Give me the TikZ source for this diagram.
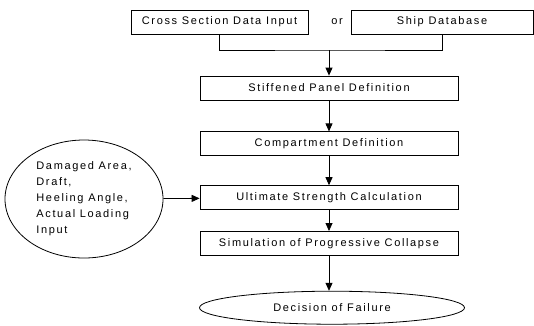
\documentclass[tikz,border=0pt]{standalone}
\usepackage{fontspec}
\setmainfont{Liberation Sans}[LetterSpace=15]
\usetikzlibrary{positioning,shapes.geometric,arrows.meta}
\tikzstyle{stage} = [rectangle,
                    draw=black,
                    minimum width=258pt,
                    minimum height=24pt,
                    inner sep=0pt,
                    font=\fontsize{11}{13}\selectfont]
\tikzstyle{outcome} = [ellipse,
                      draw=black,
                      inner sep=0pt,
                      font=\fontsize{11}{13}\selectfont]
\tikzstyle{flow} = [x=1pt,
                   y=-1pt,
                   line width=0.8pt,
                   >={Triangle[length=8pt,width=7pt]}]
\begin{document}
\begin{tikzpicture}[flow]
    \useasboundingbox (0,0) rectangle (534,325);
    \node (cross) at (219.5,22) [stage, minimum width=177pt] {Cross Section Data Input};
    \node (ship) at (442,22) [stage, minimum width=182pt] {Ship Database};
    \node (or) at (337,22) [font=\fontsize{11}{13}\selectfont] {or};
    \node (panel) at (329,88) [stage] {Stiffened Panel Definition};
    \node (comp) [below=31pt of panel] [stage] {Compartment Definition};
    \node (ultimate) [below=29pt of comp] [stage] {Ultimate Strength Calculation};
    \node (sim) [below=21pt of ultimate] [stage] {Simulation of Progressive Collapse};
    \node (failure) [below=35pt of sim, xshift=3pt] [outcome, minimum width=265pt, minimum height=33pt] {Decision of Failure};
    \node (loads) at (84,199) [outcome, minimum width=158pt, minimum height=118pt,
      align=left, font=\fontsize{11}{16}\selectfont]
      {Damaged Area,\\Draft,\\Heeling Angle,\\Actual Loading\\Input};
    \coordinate (join) at (329,50);
    \draw (cross.south) |- (join) -| (ship.south);
    \path[->]
      (join) edge (panel)
      (panel) edge (comp)
      (comp) edge (ultimate)
      (ultimate) edge (sim)
      (sim) edge (sim |- failure.north)
      (loads) edge (ultimate);
\end{tikzpicture}
\end{document}
